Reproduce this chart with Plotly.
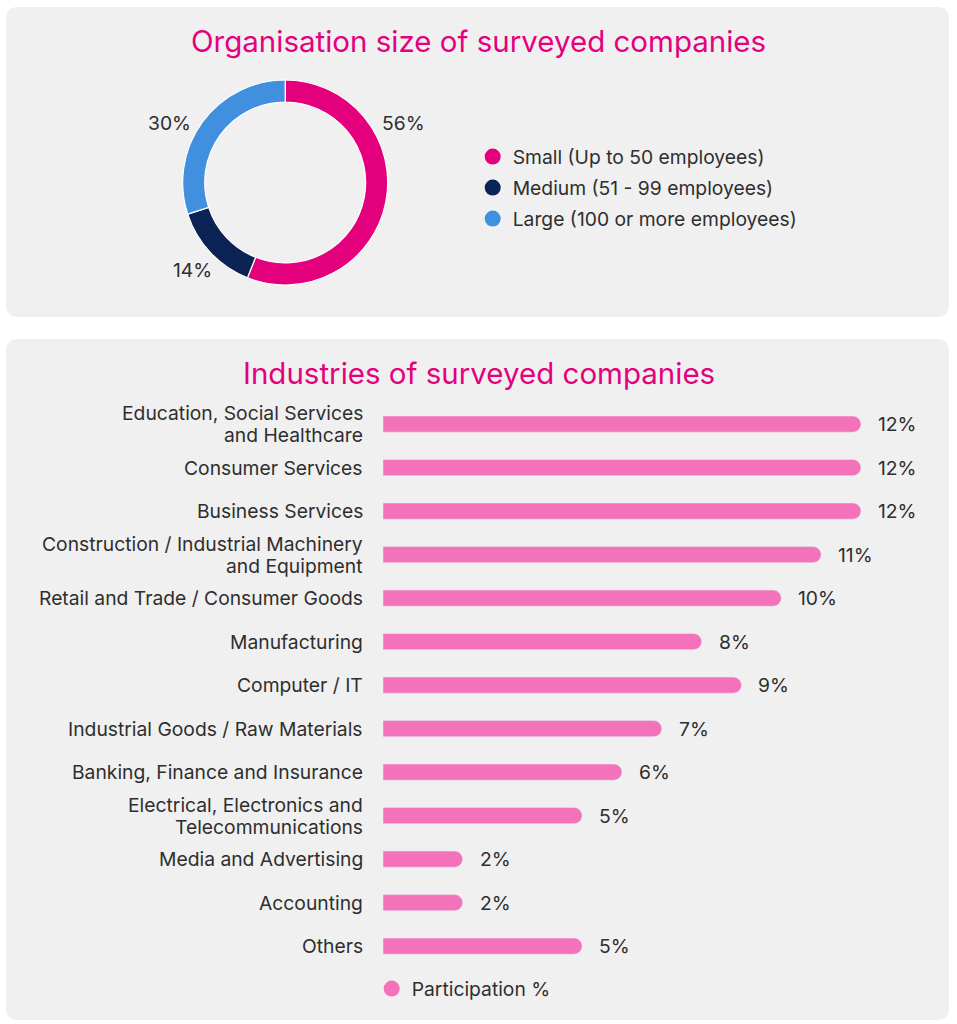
import plotly.graph_objects as go

W, H = 957, 1024

# ---------------- data ----------------
size_labels = ["Small (Up to 50 employees)", "Medium (51 - 99 employees)", "Large (100 or more employees)"]
size_values = [56, 14, 30]
size_colors = ["#e4007c", "#0b2255", "#4190e0"]

industries = [
    "Education, Social Services<br>and Healthcare",
    "Consumer Services",
    "Business Services",
    "Construction / Industrial Machinery<br>and Equipment",
    "Retail and Trade / Consumer Goods",
    "Manufacturing",
    "Computer / IT",
    "Industrial Goods / Raw Materials",
    "Banking, Finance and Insurance",
    "Electrical, Electronics and<br>Telecommunications",
    "Media and Advertising",
    "Accounting",
    "Others",
]
participation = [12, 12, 12, 11, 10, 8, 9, 7, 6, 5, 2, 2, 5]
bar_name = "Participation %"

# ---------------- style ----------------
FONT = "Inter"
FS = 19.3
TEXT = "#2e2e2e"
TITLE = "#e5007e"
BAR = "#f472ba"
PANEL = "#f0f0f0"


def px(x):
    return x / W


def py(y):
    return 1 - y / H


def rounded_rect(x0, y0, x1, y1, r):
    def P(x, y):
        return f"{px(x):.5f},{py(y):.5f}"
    return (f"M{P(x0 + r, y0)} L{P(x1 - r, y0)} Q{P(x1, y0)} {P(x1, y0 + r)} "
            f"L{P(x1, y1 - r)} Q{P(x1, y1)} {P(x1 - r, y1)} L{P(x0 + r, y1)} "
            f"Q{P(x0, y1)} {P(x0, y1 - r)} L{P(x0, y0 + r)} Q{P(x0, y0)} {P(x0 + r, y0)} Z")


fig = go.Figure()

# donut
fig.add_trace(go.Pie(
    values=size_values, labels=size_labels, hole=0.785, sort=False,
    direction="clockwise", rotation=0, textinfo="none", showlegend=False,
    marker=dict(colors=size_colors, line=dict(color="white", width=1.2)),
    domain=dict(x=[px(182.7), px(387.7)], y=[py(285), py(80)]),
))

# legend entries for donut (circle symbols)
for i, (lab, col) in enumerate(zip(size_labels, size_colors)):
    fig.add_trace(go.Scatter(
        x=[None], y=[None], mode="markers", name=lab,
        marker=dict(size=16, color=col, symbol="circle"),
        xaxis="x2", yaxis="y2", legend=["legend", "legend2", "legend3"][i],
    ))

# bars
fig.add_trace(go.Bar(
    y=industries, x=participation, orientation="h", name=bar_name,
    marker=dict(color=BAR, cornerradius=8), showlegend=False,
    xaxis="x", yaxis="y", hoverinfo="x+y",
))
fig.add_trace(go.Scatter(
    x=[None], y=[None], mode="markers", name=bar_name,
    marker=dict(size=16, color=BAR, symbol="circle"),
    xaxis="x2", yaxis="y2", legend="legend4",
))

annotations = []
for cat, v in zip(industries, participation):
    # value label
    annotations.append(dict(
        x=v, y=cat, xref="x", yref="y", text=f"{v}%", showarrow=False,
        xanchor="left", yanchor="middle", xshift=15,
        font=dict(family=FONT, size=FS, color=TEXT),
    ))
    # category label (one annotation per line for tight line spacing)
    lines = cat.split("<br>")
    n = len(lines)
    for j, ln in enumerate(lines):
        annotations.append(dict(
            x=0, y=cat, xref="x", yref="y", text=ln, showarrow=False,
            xanchor="right", yanchor="middle", xshift=-18,
            yshift=((n - 1) / 2 - j) * 22,
            font=dict(family=FONT, size=FS, color=TEXT),
        ))

# titles
annotations.append(dict(x=0.5, y=py(41), xref="paper", yref="paper", showarrow=False,
                        text="Organisation size of surveyed companies", yanchor="middle",
                        font=dict(family=FONT, size=29.5, color=TITLE)))
annotations.append(dict(x=0.5, y=py(373), xref="paper", yref="paper", showarrow=False,
                        text="Industries of surveyed companies", yanchor="middle",
                        font=dict(family=FONT, size=29.5, color=TITLE)))

# donut percentage labels
for (xx, yy), v in zip([(403, 123), (192, 270), (169, 123)], size_values):
    annotations.append(dict(x=px(xx), y=py(yy), xref="paper", yref="paper", showarrow=False,
                            text=f"{v}%", xanchor="center", yanchor="middle",
                            font=dict(family=FONT, size=FS, color=TEXT)))

shapes = [
    dict(type="path", path=rounded_rect(6, 7, 949, 317, 12), xref="paper", yref="paper",
         fillcolor=PANEL, line=dict(width=0), layer="below"),
    dict(type="path", path=rounded_rect(6, 339, 949, 1020, 12), xref="paper", yref="paper",
         fillcolor=PANEL, line=dict(width=0), layer="below"),
]

leg_common = dict(bgcolor="rgba(0,0,0,0)", borderwidth=0, xanchor="left", yanchor="middle",
                  font=dict(family=FONT, size=FS, color=TEXT))
fig.update_layout(
    width=W, height=H, margin=dict(l=0, r=0, t=0, b=0),
    paper_bgcolor="white", plot_bgcolor="rgba(0,0,0,0)",
    font=dict(family=FONT, size=FS, color=TEXT),
    bargap=0.63,
    xaxis=dict(domain=[px(383), px(383 + 14 * 39.83)], range=[0, 14], visible=False, fixedrange=True),
    yaxis=dict(domain=[py(967.9), py(399.1)], autorange="reversed", showgrid=False,
               zeroline=False, showline=False, ticks="", showticklabels=False, fixedrange=True),
    xaxis2=dict(domain=[0, 0.01], visible=False, anchor="y2"),
    yaxis2=dict(domain=[0, 0.01], visible=False, anchor="x2"),
    legend=dict(x=px(472.7), y=py(157), **leg_common),
    legend2=dict(x=px(472.7), y=py(188), **leg_common),
    legend3=dict(x=px(472.7), y=py(219), **leg_common),
    legend4=dict(x=px(371.7), y=py(989), **leg_common),
    annotations=annotations,
    shapes=shapes,
)

fig.write_html("out.html")
